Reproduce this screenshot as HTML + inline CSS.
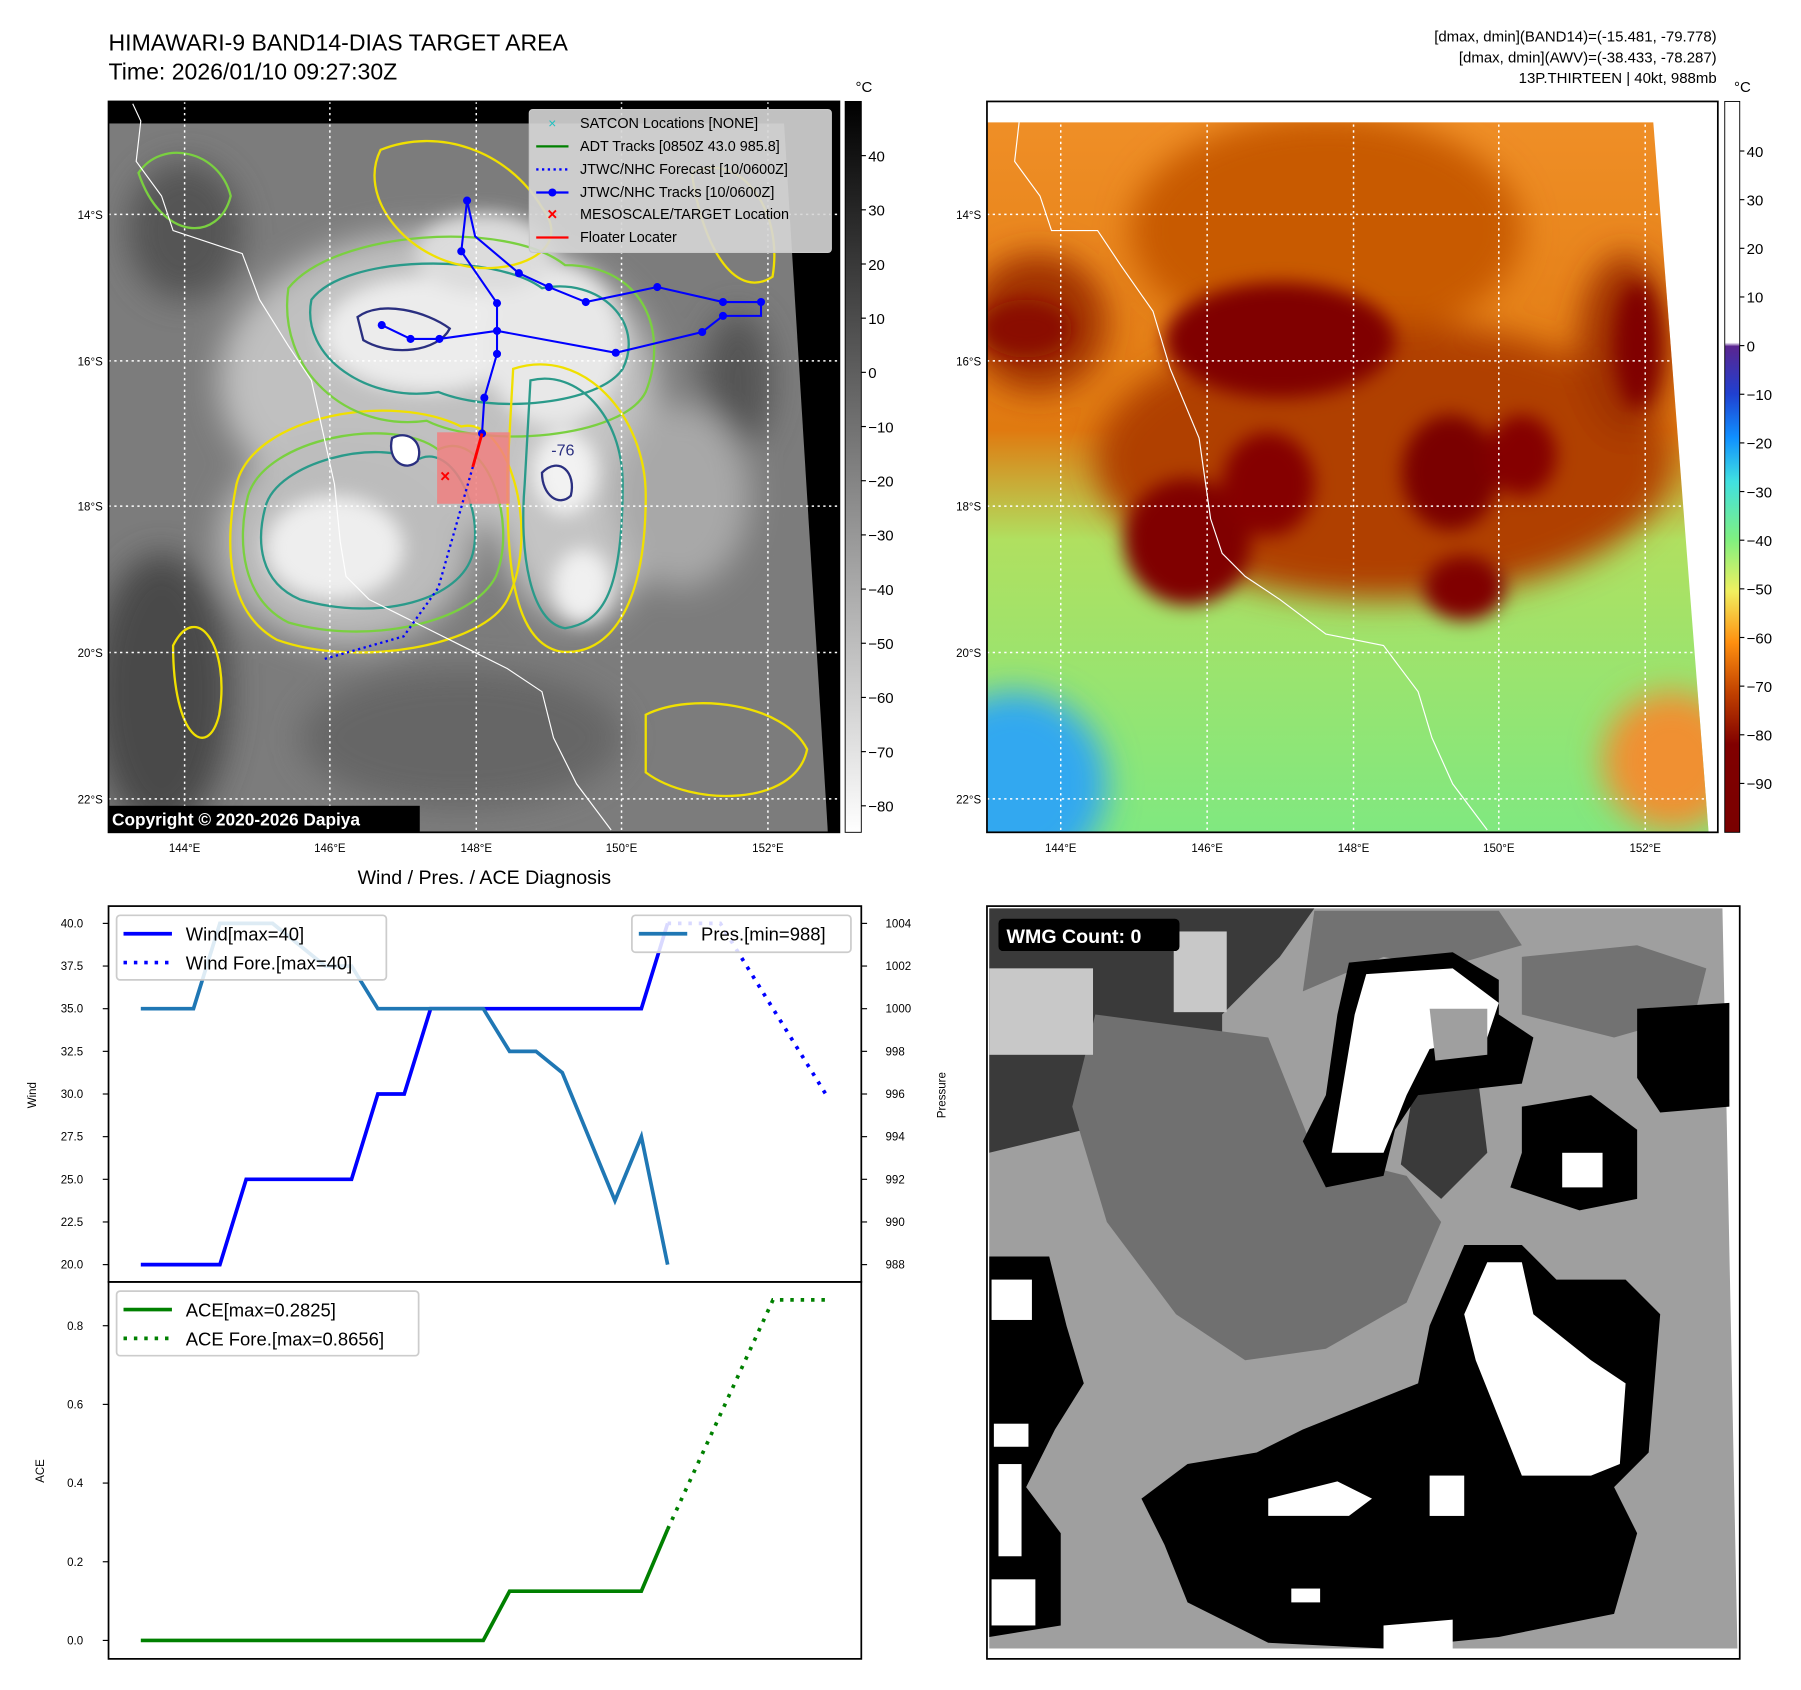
<!DOCTYPE html>
<html><head><meta charset="utf-8"><style>
html,body{margin:0;padding:0;background:#fff;}
svg{display:block;font-family:"Liberation Sans","DejaVu Sans",sans-serif;}
</style></head><body>
<svg id="root" width="1801" height="1690" viewBox="0 0 1562 1466" xmlns="http://www.w3.org/2000/svg">
<defs>
<filter id="blur8" x="-50%" y="-50%" width="200%" height="200%"><feGaussianBlur stdDeviation="8"/></filter>
<filter id="blur14" x="-50%" y="-50%" width="200%" height="200%"><feGaussianBlur stdDeviation="14"/></filter>
<clipPath id="clipL"><polygon points="94,107 680,107 718,722 94,722"/></clipPath>
<clipPath id="clipR"><polygon points="856,106 1434,106 1482,722 856,722"/></clipPath>
<linearGradient id="cbL" x1="0" y1="0" x2="0" y2="1"><stop offset="0" stop-color="#000"/><stop offset="1" stop-color="#fff"/></linearGradient>
<linearGradient id="cbR" x1="0" y1="0" x2="0" y2="1">
<stop offset="0" stop-color="#fff"/><stop offset="0.33" stop-color="#fff"/><stop offset="0.335" stop-color="#5a2590"/>
<stop offset="0.4" stop-color="#2040d0"/><stop offset="0.46" stop-color="#1090ff"/><stop offset="0.52" stop-color="#40e0e0"/>
<stop offset="0.6" stop-color="#80f080"/><stop offset="0.67" stop-color="#f0f060"/><stop offset="0.74" stop-color="#ff9010"/>
<stop offset="0.81" stop-color="#c04000"/><stop offset="0.88" stop-color="#800000"/><stop offset="1" stop-color="#7a0000"/></linearGradient>
<linearGradient id="bgR" x1="0" y1="0" x2="0" y2="1">
<stop offset="0" stop-color="#f09028"/><stop offset="0.45" stop-color="#e07a10"/><stop offset="0.6" stop-color="#b0e060"/><stop offset="1" stop-color="#80e880"/></linearGradient>
</defs>

<!-- Top-left title -->
<text x="94" y="44" font-size="20">HIMAWARI-9 BAND14-DIAS TARGET AREA</text>
<text x="94" y="69" font-size="20">Time: 2026/01/10 09:27:30Z</text>
<g font-size="13" text-anchor="end">
<text x="1489" y="36">[dmax, dmin](BAND14)=(-15.481, -79.778)</text>
<text x="1489" y="54">[dmax, dmin](AWV)=(-38.433, -78.287)</text>
<text x="1489" y="72">13P.THIRTEEN | 40kt, 988mb</text>
</g>

<!-- LEFT MAP -->
<g>
<rect x="94" y="88" width="634" height="634" fill="#000"/>
<g clip-path="url(#clipL)">
<rect x="94" y="88" width="634" height="634" fill="#7c7c7c"/>
<g filter="url(#blur14)">
<ellipse cx="140" cy="600" rx="60" ry="120" fill="#4a4a4a"/>
<ellipse cx="160" cy="200" rx="50" ry="60" fill="#555"/>
<ellipse cx="640" cy="330" rx="30" ry="60" fill="#555"/>
<ellipse cx="400" cy="640" rx="140" ry="60" fill="#666"/>
<ellipse cx="380" cy="330" rx="190" ry="130" fill="#c0c0c0"/>
<ellipse cx="300" cy="470" rx="110" ry="90" fill="#bcbcbc"/>
<ellipse cx="500" cy="430" rx="70" ry="110" fill="#c4c4c4"/>
<ellipse cx="590" cy="430" rx="60" ry="80" fill="#a8a8a8"/>
</g>
<g filter="url(#blur8)">
<ellipse cx="370" cy="290" rx="90" ry="50" fill="#ececec"/>
<ellipse cx="290" cy="475" rx="60" ry="45" fill="#eee"/>
<ellipse cx="480" cy="300" rx="60" ry="70" fill="#e8e8e8"/>
<ellipse cx="490" cy="410" rx="28" ry="36" fill="#f2f2f2"/>
<ellipse cx="505" cy="508" rx="25" ry="32" fill="#f0f0f0"/>
<ellipse cx="420" cy="220" rx="60" ry="35" fill="#dcdcdc"/>
</g>
<g fill="none" stroke-width="2">
<path d="M230,440 C240,400 330,380 360,400 C390,380 420,440 410,480 C400,520 330,540 260,520 C225,505 222,470 230,440Z" stroke="#2a9a8a"/>
<path d="M215,430 C230,380 340,360 380,390 C420,370 450,450 430,500 C410,540 320,560 250,540 C210,520 205,470 215,430Z" stroke="#7ad040"/>
<path d="M205,420 C220,360 340,340 400,370 C440,360 470,460 440,520 C420,560 310,580 240,555 C195,530 195,470 205,420Z" stroke="#f0e000"/>
<path d="M270,260 C300,220 430,220 470,250 C520,240 560,280 540,320 C520,350 430,360 380,340 C320,350 260,310 270,260Z" stroke="#2a9a8a"/>
<path d="M250,250 C290,200 440,190 490,230 C560,230 580,290 560,340 C540,380 420,390 370,365 C300,375 240,320 250,250Z" stroke="#7ad040"/>
<path d="M460,330 C500,320 540,360 540,420 C540,520 520,540 490,545 C460,540 450,480 455,420Z" stroke="#2a9a8a"/>
<path d="M445,320 C505,300 560,360 560,430 C560,540 520,570 485,565 C440,555 440,470 440,410Z" stroke="#f0e000"/>
<path d="M330,130 C380,110 440,130 470,180 C500,220 440,240 400,230 C350,220 310,170 330,130Z" stroke="#f0e000"/>
<path d="M310,275 C330,260 370,270 390,285 C380,305 340,310 315,295Z" stroke="#2a2f80"/>
<path d="M340,380 C355,372 368,385 362,400 C352,410 335,400 340,380Z" stroke="#2a2f80" fill="#fff"/>
<path d="M470,410 C485,395 500,410 495,430 C485,440 470,430 470,410Z" stroke="#2a2f80"/>
<path d="M150,560 C170,520 200,560 190,620 C180,660 150,640 150,560Z" stroke="#f0e000"/>
<path d="M560,620 C600,600 680,610 700,650 C690,700 600,700 560,670Z" stroke="#f0e000"/>
<path d="M120,150 C140,120 190,130 200,170 C190,210 140,210 120,150Z" stroke="#7ad040"/>
<path d="M600,150 C640,130 680,180 670,240 C640,260 610,220 600,150Z" stroke="#f0e000"/>
</g>
</g>
<!-- grid -->
<g stroke="#fff" stroke-width="1.3" stroke-dasharray="2,3">
<line x1="160" y1="88" x2="160" y2="722"/><line x1="286" y1="88" x2="286" y2="722"/><line x1="413" y1="88" x2="413" y2="722"/><line x1="539" y1="88" x2="539" y2="722"/><line x1="666" y1="88" x2="666" y2="722"/>
<line x1="94" y1="186" x2="728" y2="186"/><line x1="94" y1="313" x2="728" y2="313"/><line x1="94" y1="439" x2="728" y2="439"/><line x1="94" y1="566" x2="728" y2="566"/><line x1="94" y1="693" x2="728" y2="693"/>
</g>
<path d="M115,90 L122,105 L118,140 L140,170 L150,200 L210,220 L225,260 L250,300 L270,330 L290,420 L295,470 L300,500 L320,520 L360,540 L400,560 L440,580 L470,600 L480,640 L500,680 L530,720" fill="none" stroke="#fff" stroke-width="1"/>
<rect x="379" y="375" width="63" height="62" fill="#f08080" opacity="0.85"/>
<polyline points="410,405 400,440 380,510 350,552 280,572" fill="none" stroke="#0000ff" stroke-width="2" stroke-dasharray="2,3"/>
<g fill="#0000ff">
<polyline points="418,376 420,345 431,307 431,287 431,263 400,218 405,174 412,205 450,237 476,249 508,262 570,249 627,262 660,262 660,274 627,274 609,288 534,306 431,287 381,294 356,294 331,282" fill="none" stroke="#0000ff" stroke-width="1.8"/>
<circle cx="418" cy="376" r="3.5"/><circle cx="420" cy="345" r="3.5"/><circle cx="431" cy="307" r="3.5"/><circle cx="431" cy="287" r="3.5"/><circle cx="431" cy="263" r="3.5"/><circle cx="400" cy="218" r="3.5"/><circle cx="405" cy="174" r="3.5"/><circle cx="450" cy="237" r="3.5"/><circle cx="476" cy="249" r="3.5"/><circle cx="508" cy="262" r="3.5"/><circle cx="570" cy="249" r="3.5"/><circle cx="627" cy="262" r="3.5"/><circle cx="660" cy="262" r="3.5"/><circle cx="627" cy="274" r="3.5"/><circle cx="609" cy="288" r="3.5"/><circle cx="534" cy="306" r="3.5"/><circle cx="381" cy="294" r="3.5"/><circle cx="356" cy="294" r="3.5"/><circle cx="331" cy="282" r="3.5"/>
</g>
<line x1="418" y1="376" x2="410" y2="405" stroke="#ff0000" stroke-width="2.5"/>
<text x="386" y="418" font-size="15" fill="#ff0000" text-anchor="middle" font-weight="bold">×</text>
<text x="478" y="395" font-size="14" fill="#2a2f80">-76</text>
<rect x="94" y="699" width="270" height="23" fill="#000"/>
<text x="97" y="716" font-size="15" font-weight="bold" fill="#fff">Copyright © 2020-2026 Dapiya</text>
<rect x="94" y="88" width="634" height="634" fill="none" stroke="#000" stroke-width="1.5"/>
<!-- legend -->
<g font-size="12.5">
<rect x="459" y="95" width="262" height="124" rx="3" fill="#d6d6d6" fill-opacity="0.9" stroke="#c8c8c8"/>
<text x="479" y="111" fill="#20c0c0" font-size="12" text-anchor="middle">×</text><text x="503" y="111">SATCON Locations [NONE]</text>
<line x1="465" y1="127" x2="493" y2="127" stroke="#008000" stroke-width="2"/><text x="503" y="131">ADT Tracks [0850Z 43.0 985.8]</text>
<line x1="465" y1="147" x2="493" y2="147" stroke="#0000ff" stroke-width="2" stroke-dasharray="2,3"/><text x="503" y="151">JTWC/NHC Forecast [10/0600Z]</text>
<line x1="465" y1="167" x2="493" y2="167" stroke="#0000ff" stroke-width="2"/><circle cx="479" cy="167" r="3.5" fill="#0000ff"/><text x="503" y="171">JTWC/NHC Tracks [10/0600Z]</text>
<text x="479" y="191" fill="#ff0000" font-size="15" font-weight="bold" text-anchor="middle">×</text><text x="503" y="190">MESOSCALE/TARGET Location</text>
<line x1="465" y1="206" x2="493" y2="206" stroke="#ff0000" stroke-width="2"/><text x="503" y="210">Floater Locater</text>
</g>
</g>
<!-- left map ticks -->
<g font-size="10">
<g text-anchor="middle"><text x="160" y="739">144°E</text><text x="286" y="739">146°E</text><text x="413" y="739">148°E</text><text x="539" y="739">150°E</text><text x="666" y="739">152°E</text></g>
<g text-anchor="end"><text x="89" y="190">14°S</text><text x="89" y="317">16°S</text><text x="89" y="443">18°S</text><text x="89" y="570">20°S</text><text x="89" y="697">22°S</text></g>
</g>
<g>
<rect x="733" y="88" width="14" height="634" fill="url(#cbL)" stroke="#000" stroke-width="0.8"/>
<text x="742" y="80" font-size="13">°C</text>
<g font-size="13" id="cbLticks"></g>
</g>

<!-- RIGHT MAP -->
<g>
<rect x="856" y="88" width="634" height="634" fill="#fff"/>
<g clip-path="url(#clipR)">
<rect x="856" y="88" width="634" height="634" fill="url(#bgR)"/>
<g filter="url(#blur14)">
<ellipse cx="880" cy="680" rx="80" ry="80" fill="#30a8f0"/>
<ellipse cx="1450" cy="660" rx="60" ry="60" fill="#f09030"/>
<ellipse cx="1150" cy="200" rx="170" ry="100" fill="#c85a00"/>
<ellipse cx="1200" cy="400" rx="250" ry="120" fill="#b04000"/>
<ellipse cx="900" cy="280" rx="60" ry="60" fill="#a03000"/>
<ellipse cx="1410" cy="300" rx="40" ry="80" fill="#a03000"/>
</g>
<g filter="url(#blur8)">
<ellipse cx="1110" cy="295" rx="100" ry="50" fill="#800000"/>
<ellipse cx="1030" cy="470" rx="55" ry="55" fill="#800000"/>
<ellipse cx="1100" cy="420" rx="40" ry="45" fill="#850500"/>
<ellipse cx="1258" cy="410" rx="42" ry="50" fill="#7a0000"/>
<ellipse cx="1270" cy="510" rx="35" ry="28" fill="#800000"/>
<ellipse cx="1420" cy="300" rx="20" ry="55" fill="#800000"/>
<ellipse cx="1320" cy="395" rx="30" ry="35" fill="#850500"/>
<ellipse cx="890" cy="285" rx="40" ry="25" fill="#8a1000"/>
</g>
</g>
<g stroke="#fff" stroke-width="1.3" stroke-dasharray="2,3">
<line x1="920" y1="88" x2="920" y2="722"/><line x1="1047" y1="88" x2="1047" y2="722"/><line x1="1174" y1="88" x2="1174" y2="722"/><line x1="1300" y1="88" x2="1300" y2="722"/><line x1="1427" y1="88" x2="1427" y2="722"/>
<line x1="856" y1="186" x2="1490" y2="186"/><line x1="856" y1="313" x2="1490" y2="313"/><line x1="856" y1="439" x2="1490" y2="439"/><line x1="856" y1="566" x2="1490" y2="566"/><line x1="856" y1="693" x2="1490" y2="693"/>
</g>
<path d="M877,90 L884,105 L880,140 L902,170 L912,200 L952,200 L972,230 L1000,270 L1015,320 L1040,380 L1050,450 L1060,480 L1080,500 L1110,520 L1150,550 L1200,560 L1230,600 L1242,640 L1260,680 L1290,720" fill="none" stroke="#fff" stroke-width="1"/>
<rect x="856" y="88" width="634" height="634" fill="none" stroke="#000" stroke-width="1.5"/>
</g>
<g font-size="10">
<g text-anchor="middle"><text x="920" y="739">144°E</text><text x="1047" y="739">146°E</text><text x="1174" y="739">148°E</text><text x="1300" y="739">150°E</text><text x="1427" y="739">152°E</text></g>
<g text-anchor="end"><text x="851" y="190">14°S</text><text x="851" y="317">16°S</text><text x="851" y="443">18°S</text><text x="851" y="570">20°S</text><text x="851" y="697">22°S</text></g>
</g>
<g>
<rect x="1496" y="88" width="13" height="634" fill="url(#cbR)" stroke="#000" stroke-width="0.8"/>
<text x="1504" y="80" font-size="13">°C</text>
<g font-size="13" id="cbRticks"></g>
</g>

<!-- BOTTOM LEFT CHART -->
<text x="420" y="767" font-size="17" text-anchor="middle">Wind / Pres. / ACE Diagnosis</text>
<g id="chart"></g>

<!-- BOTTOM RIGHT WMG -->
<g>
<rect x="856" y="786" width="653" height="653" fill="#fff"/>
<polygon points="858,788 1494,788 1507,1430 858,1430" fill="#9f9f9f"/>
<polygon points="858,788 1140,788 1110,830 1060,880 1060,1000 980,1000 940,980 858,1000" fill="#3a3a3a"/>
<polygon points="950,880 1100,900 1140,1000 1220,1020 1250,1060 1220,1130 1150,1170 1080,1180 1020,1140 960,1060 930,960" fill="#707070"/>
<polygon points="1140,790 1300,790 1320,820 1250,840 1200,830 1130,860" fill="#727272"/>
<polygon points="1320,830 1420,820 1480,840 1470,880 1400,900 1320,880" fill="#727272"/>
<polygon points="1230,920 1280,920 1290,1000 1250,1040 1215,1010" fill="#3a3a3a"/>
<rect x="858" y="840" width="90" height="75" fill="#c8c8c8"/>
<rect x="1018" y="808" width="46" height="70" fill="#c8c8c8"/>
<polygon points="1170,835 1260,826 1300,850 1300,880 1330,900 1320,940 1230,950 1210,980 1200,1020 1150,1030 1130,990 1150,950 1160,880" fill="#000"/>
<polygon points="1185,845 1260,840 1300,870 1290,900 1240,910 1220,950 1200,1000 1155,1000 1165,940 1175,880" fill="#fff"/>
<polygon points="1240,875 1290,875 1290,915 1245,920" fill="#9f9f9f"/>
<polygon points="1420,875 1500,870 1500,960 1440,965 1420,935" fill="#000"/>
<polygon points="1320,960 1380,950 1420,980 1420,1040 1370,1050 1310,1030 1320,1000" fill="#000"/>
<rect x="1355" y="1000" width="35" height="30" fill="#fff"/>
<polygon points="1270,1080 1320,1080 1350,1110 1410,1110 1440,1140 1430,1260 1400,1290 1420,1330 1400,1400 1300,1420 1200,1430 1100,1425 1030,1390 1010,1340 990,1300 1030,1270 1090,1260 1130,1240 1180,1220 1230,1200 1240,1150" fill="#000"/>
<polygon points="1290,1095 1320,1095 1330,1140 1380,1180 1410,1200 1405,1270 1380,1280 1320,1280 1300,1230 1280,1180 1270,1140" fill="#fff"/>
<polygon points="858,1090 910,1090 925,1150 940,1200 915,1240 890,1290 920,1330 920,1410 858,1420" fill="#000"/>
<rect x="860" y="1110" width="35" height="35" fill="#fff"/>
<rect x="862" y="1235" width="30" height="20" fill="#fff"/>
<rect x="866" y="1270" width="20" height="80" fill="#fff"/>
<rect x="860" y="1370" width="38" height="40" fill="#fff"/>
<polygon points="1100,1300 1160,1285 1190,1300 1170,1315 1100,1315" fill="#fff"/>
<rect x="1240" y="1280" width="30" height="35" fill="#fff"/>
<rect x="1120" y="1378" width="25" height="12" fill="#fff"/>
<polygon points="1200,1410 1260,1405 1260,1430 1200,1430" fill="#fff"/>
<rect x="856" y="786" width="653" height="653" fill="none" stroke="#000" stroke-width="1.5"/>
<rect x="866" y="797" width="157" height="28" rx="4" fill="#000"/>
<text x="873" y="818" font-size="17" font-weight="bold" fill="#fff">WMG Count: 0</text>
</g>
</svg>
<script>
// Diagnosis chart data
const timeIdx = [0,1,2,3,4,5,6,7,8,9,10,11,12,13,14,15,16,17,18,19,20];
const windVals = [20,20,20,20,25,25,25,25,25,30,30,35,35,35,35,35,35,35,35,35,40];
const foreIdx = [20,22,26];
const foreWind = [40,40,30];
const presIdx = [0,2,3,5,7,8,9,13,14,15,16,18,19,20];
const presVals = [1000,1000,1004,1004,1002,1002,1000,1000,998,998,997,991,994,988];
const aceVals = [0,0,0,0,0,0,0,0,0,0,0,0,0,0,0.125,0.125,0.125,0.125,0.125,0.125,0.2825];
const aceForeIdx = [20,24,26];
const aceFore = [0.2825,0.8656,0.8656];
const windTicks = [20.0,22.5,25.0,27.5,30.0,32.5,35.0,37.5,40.0];
const presTicks = [988,990,992,994,996,998,1000,1002,1004];
const aceTicks = [0.0,0.2,0.4,0.6,0.8];
const cbLTicks = [40,30,20,10,0,-10,-20,-30,-40,-50,-60,-70,-80];
const cbRTicks = [40,30,20,10,0,-10,-20,-30,-40,-50,-60,-70,-80,-90];

const NS='http://www.w3.org/2000/svg';
function mk(tag, attrs, parent){const e=document.createElementNS(NS,tag);for(const k in attrs)e.setAttribute(k,attrs[k]);parent.appendChild(e);return e;}
const xs = i => 122 + 22.85*i;
const yW = v => 1097 - (v-20)*(296/20);
const yP = v => 1097 - (v-988)*(296/16);
const yA = v => 1423 - v*(273/0.8);
const g = document.getElementById('chart');

// axes frames
mk('rect',{x:94,y:786,width:653,height:326,fill:'none',stroke:'#000','stroke-width':1.5},g);
mk('rect',{x:94,y:1112,width:653,height:327,fill:'none',stroke:'#000','stroke-width':1.5},g);

windTicks.forEach(t=>{const y=yW(t);
 mk('line',{x1:89,x2:94,y1:y,y2:y,stroke:'#000'},g);
 const tx=mk('text',{x:72,y:y+3.5,'font-size':10,'text-anchor':'end'},g);tx.textContent=t.toFixed(1);
 
 });
presTicks.forEach(t=>{const y=yP(t);
 mk('line',{x1:747,x2:752,y1:y,y2:y,stroke:'#000'},g);
 const tx=mk('text',{x:768,y:y+3.5,'font-size':10},g);tx.textContent=t;
 
 });
aceTicks.forEach(t=>{const y=yA(t);
 mk('line',{x1:89,x2:94,y1:y,y2:y,stroke:'#000'},g);
 const tx=mk('text',{x:72,y:y+3.5,'font-size':10,'text-anchor':'end'},g);tx.textContent=t.toFixed(1);
 
 });
let lab=mk('text',{x:0,y:0,'font-size':10,'text-anchor':'middle',transform:'translate(31,950) rotate(-90)'},g);lab.textContent='Wind';


lab=mk('text',{x:0,y:0,'font-size':10,'text-anchor':'middle',transform:'translate(820,950) rotate(-90)'},g);lab.textContent='Pressure';


lab=mk('text',{x:0,y:0,'font-size':10,'text-anchor':'middle',transform:'translate(38,1276) rotate(-90)'},g);lab.textContent='ACE';



function line(ix, vals, yf, color, dash, name){
 const pts = ix.map((i,k)=>xs(i).toFixed(1)+','+yf(vals[k]).toFixed(1)).join(' ');
 const a={points:pts,fill:'none',stroke:color,'stroke-width':3.2,'stroke-linejoin':'miter'};
 if(dash)a['stroke-dasharray']=dash;
 const p=mk('polyline',a,g);
 
 
}
line(timeIdx, windVals, yW, '#0000ff', null, 'wind-line');
line(foreIdx, foreWind, yW, '#0000ff', '3,6', 'wind-forecast-line');
line(presIdx, presVals, yP, '#1f77b4', null, 'pressure-line');
line(timeIdx, aceVals, yA, '#008000', null, 'ace-line');
line(aceForeIdx, aceFore, yA, '#008000', '3,6', 'ace-forecast-line');

function legend(x,y,w,items,name){
 const lg=mk('g',{},g);
 
 
 mk('rect',{x:x,y:y,width:w,height:items.length*24+8,rx:3,fill:'#fff','fill-opacity':0.85,stroke:'#ccc','stroke-width':1.5},lg);
 items.forEach((it,k)=>{const yy=y+16+k*25;
  const a={x1:x+6,x2:x+48,y1:yy,y2:yy,stroke:it[1],'stroke-width':3.2};if(it[2])a['stroke-dasharray']='3,6';
  mk('line',a,lg);
  const t=mk('text',{x:x+60,y:yy+6,'font-size':16},lg);t.textContent=it[0];});
}
legend(101,794,234,[['Wind[max=40]','#0000ff',0],['Wind Fore.[max=40]','#0000ff',1]],'wind-legend');
legend(548,794,190,[['Pres.[min=988]','#1f77b4',0]],'pressure-legend');
legend(101,1120,262,[['ACE[max=0.2825]','#008000',0],['ACE Fore.[max=0.8656]','#008000',1]],'ace-legend');

// colorbar ticks
const cl=document.getElementById('cbLticks');
cbLTicks.forEach(t=>{const y=135+(40-t)*4.7;
 mk('line',{x1:747,x2:751,y1:y,y2:y,stroke:'#000'},cl);
 const tx=mk('text',{x:753,y:y+5},cl);tx.textContent=t<0?'\u2212'+(-t):t;
 
 });
const cr=document.getElementById('cbRticks');
cbRTicks.forEach(t=>{const y=131+(40-t)*4.22;
 mk('line',{x1:1509,x2:1513,y1:y,y2:y,stroke:'#000'},cr);
 const tx=mk('text',{x:1515,y:y+5},cr);tx.textContent=t<0?'\u2212'+(-t):t;
 
 });
</script>
</body></html>
